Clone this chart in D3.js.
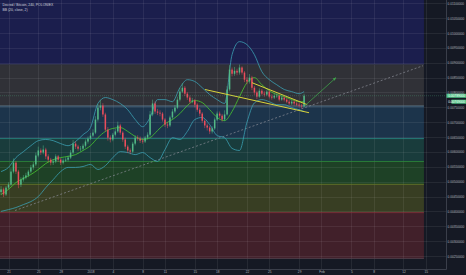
<!DOCTYPE html>
<html>
<head>
<meta charset="utf-8">
<script src="https://cdn.jsdelivr.net/npm/d3@7"></script>
<style>
body { margin: 0; background: #151924; }
svg { display: block; }
text { font-family: "Liberation Sans", Arial, sans-serif; }
</style>
</head>
<body>
<script>
// chart size
var svgWidth = 466;
var svgHeight = 275;
var plotRight = 446;
var plotBottom = 269;

// DCR/BTC candles, one every 8 hours from Dec 20 2017 (open = previous close)
var candleStart = Date.UTC(2017, 11, 20);
var candleStep = 8 * 3600 * 1000;
var firstOpen = 0.00465;
var closes = [0.00474,0.00457,0.00480,0.00490,0.00534,0.00564,0.00534,0.00490,0.00507,0.00514,
  0.00521,0.00534,0.00548,0.00558,0.00588,0.00605,0.00598,0.00608,0.00585,0.00574,
  0.00564,0.00568,0.00585,0.00574,0.00564,0.00571,0.00574,0.00581,0.00598,0.00628,
  0.00618,0.00611,0.00611,0.00621,0.00635,0.00645,0.00655,0.00665,0.00709,0.00749,
  0.00756,0.00726,0.00675,0.00648,0.00642,0.00658,0.00669,0.00689,0.00665,0.00642,
  0.00618,0.00605,0.00601,0.00628,0.00648,0.00645,0.00638,0.00635,0.00648,0.00658,
  0.00726,0.00763,0.00736,0.00732,0.00729,0.00709,0.00692,0.00689,0.00716,0.00736,
  0.00749,0.00776,0.00803,0.00816,0.00796,0.00783,0.00769,0.00773,0.00759,0.00742,
  0.00729,0.00705,0.00689,0.00682,0.00669,0.00679,0.00709,0.00729,0.00722,0.00709,
  0.00726,0.00810,0.00877,0.00863,0.00873,0.00867,0.00884,0.00867,0.00843,0.00837,
  0.00850,0.00816,0.00800,0.00786,0.00806,0.00796,0.00793,0.00803,0.00786,0.00783,
  0.00789,0.00789,0.00776,0.00783,0.00776,0.00769,0.00763,0.00769,0.00763,0.00759,
  0.00756,0.00753,0.00789];
var highs = [0.00485,0.00480,0.00486,0.00498,0.00545,0.00578,0.00570,0.00540,0.00515,0.00522,
  0.00530,0.00540,0.00556,0.00566,0.00598,0.00618,0.00612,0.00622,0.00614,0.00592,
  0.00580,0.00576,0.00592,0.00590,0.00580,0.00578,0.00582,0.00588,0.00606,0.00640,
  0.00636,0.00624,0.00620,0.00628,0.00642,0.00652,0.00664,0.00676,0.00720,0.00762,
  0.00775,0.00764,0.00732,0.00684,0.00656,0.00664,0.00678,0.00702,0.00695,0.00670,
  0.00648,0.00624,0.00612,0.00634,0.00656,0.00656,0.00652,0.00646,0.00654,0.00666,
  0.00738,0.00776,0.00770,0.00745,0.00740,0.00734,0.00714,0.00700,0.00722,0.00744,
  0.00758,0.00786,0.00815,0.00832,0.00822,0.00802,0.00790,0.00782,0.00778,0.00764,
  0.00748,0.00734,0.00710,0.00696,0.00688,0.00686,0.00716,0.00736,0.00736,0.00728,
  0.00740,0.00822,0.00892,0.00884,0.00886,0.00880,0.00894,0.00888,0.00872,0.00852,
  0.00862,0.00856,0.00822,0.00806,0.00814,0.00812,0.00804,0.00810,0.00808,0.00794,
  0.00796,0.00798,0.00794,0.00790,0.00788,0.00782,0.00776,0.00775,0.00774,0.00770,
  0.00766,0.00762,0.00796];
var lows = [0.00455,0.00448,0.00452,0.00474,0.00486,0.00528,0.00526,0.00478,0.00482,0.00500,
  0.00508,0.00515,0.00528,0.00540,0.00552,0.00582,0.00590,0.00592,0.00576,0.00565,
  0.00555,0.00556,0.00562,0.00566,0.00556,0.00558,0.00566,0.00568,0.00576,0.00592,
  0.00610,0.00604,0.00602,0.00605,0.00615,0.00628,0.00640,0.00650,0.00660,0.00702,
  0.00740,0.00718,0.00668,0.00638,0.00632,0.00636,0.00652,0.00664,0.00658,0.00634,
  0.00610,0.00596,0.00592,0.00596,0.00622,0.00638,0.00630,0.00628,0.00630,0.00642,
  0.00652,0.00720,0.00728,0.00724,0.00720,0.00702,0.00684,0.00680,0.00684,0.00710,
  0.00730,0.00744,0.00770,0.00798,0.00788,0.00775,0.00762,0.00764,0.00750,0.00735,
  0.00720,0.00698,0.00680,0.00672,0.00660,0.00662,0.00674,0.00704,0.00714,0.00702,
  0.00704,0.00722,0.00804,0.00854,0.00856,0.00858,0.00860,0.00860,0.00835,0.00828,
  0.00830,0.00808,0.00792,0.00778,0.00782,0.00790,0.00786,0.00788,0.00780,0.00776,
  0.00778,0.00782,0.00770,0.00772,0.00770,0.00764,0.00758,0.00758,0.00756,0.00754,
  0.00750,0.00746,0.00750];

// BB (20, close, 2) at every 3rd candle
var bbIndex = [0,3,6,9,12,15,18,21,24,27,30,33,36,39,42,45,48,51,54,57,60,
  63,66,69,72,75,78,81,84,87,90,93,96,99,102,105,108,111,114,117,120,122];
var bbUpper = [0.00534,0.00548,0.00581,0.00601,0.00621,0.00638,0.00642,0.00638,0.00628,0.00621,0.00635,
  0.00658,0.00682,0.00763,0.00783,0.00776,0.00763,0.00742,0.00709,0.00685,0.00716,
  0.00776,0.00776,0.00769,0.00816,0.00843,0.00837,0.00816,0.00793,0.00776,0.00763,
  0.00927,0.00971,0.00961,0.00927,0.00870,0.00843,0.00826,0.00810,0.00803,0.00796,0.00803];
var bbBasis = [0.00457,0.00474,0.00497,0.00511,0.00524,0.00541,0.00561,0.00574,0.00581,0.00585,0.00591,
  0.00605,0.00621,0.00648,0.00669,0.00679,0.00682,0.00669,0.00652,0.00642,0.00648,
  0.00672,0.00695,0.00709,0.00729,0.00756,0.00773,0.00766,0.00742,0.00716,0.00705,
  0.00736,0.00786,0.00833,0.00850,0.00826,0.00806,0.00793,0.00786,0.00776,0.00769,0.00769];
var bbLower = [0.00400,0.00406,0.00413,0.00423,0.00433,0.00450,0.00480,0.00507,0.00534,0.00548,0.00548,
  0.00551,0.00558,0.00541,0.00554,0.00581,0.00601,0.00598,0.00591,0.00598,0.00581,
  0.00568,0.00608,0.00648,0.00642,0.00669,0.00709,0.00716,0.00692,0.00655,0.00648,
  0.00612,0.00605,0.00700,0.00765,0.00776,0.00769,0.00759,0.00759,0.00749,0.00742,0.00736];

// fib retracement drawing
var fibLevels = [0, 0.236, 0.382, 0.5, 0.618, 0.786, 1, 1.618];
var fibLow = 0.00242;
var fibHigh = 0.00894;
var fibEnd = Date.UTC(2018, 1, 14, 18);

// trend lines [time, price]
var dashedLine = [[Date.UTC(2017, 11, 21, 21), 0.00403], [Date.UTC(2018, 1, 14, 15), 0.00890]];
var wedgeLower = [[Date.UTC(2018, 0, 16, 9), 0.00810], [Date.UTC(2018, 0, 30, 8), 0.00732]];
var wedgeUpper = [[Date.UTC(2018, 0, 22, 16), 0.00833], [Date.UTC(2018, 0, 30, 2), 0.00759]];
var arrowLine = [[Date.UTC(2018, 0, 29, 19), 0.00756], [Date.UTC(2018, 1, 2, 23), 0.00850]];

// axes
var priceTicks = [0.0025,0.003,0.0035,0.004,0.0045,0.005,0.0055,0.006,0.0065,
  0.007,0.0075,0.008,0.0085,0.009,0.0095,0.01,0.0105,0.011];
var timeTicks = [Date.UTC(2017,11,21), Date.UTC(2017,11,25), Date.UTC(2017,11,28), Date.UTC(2018,0,1),
  Date.UTC(2018,0,4), Date.UTC(2018,0,8), Date.UTC(2018,0,11), Date.UTC(2018,0,15), Date.UTC(2018,0,18),
  Date.UTC(2018,0,22), Date.UTC(2018,0,25), Date.UTC(2018,0,29), Date.UTC(2018,1,1), Date.UTC(2018,1,5),
  Date.UTC(2018,1,8), Date.UTC(2018,1,12), Date.UTC(2018,1,15)];
var timeLabels = ["21","25","28","2018","4","8","11","15","18","22","25","29","Feb","5","8","12","15"];

// colours
var fibFills = ["#41202a", "#383e23", "#1e4126", "#193c3c", "#1c344b", "#303137", "#1b1e4d"];
var fibLines = ["#5a4550", "#8c2f3c", "#6f7d2a", "#2f8f3a", "#2a8d86", "#6b8aa0", "#3a3c4a", "#3a3c6a"];
var upColor = "#53b987", downColor = "#eb4d5c";

var svg = d3.select("body").append("svg")
  .attr("width", svgWidth)
  .attr("height", svgHeight);

var xScale = d3.scaleUtc()
  .domain([new Date(Date.UTC(2017, 11, 21)), new Date(Date.UTC(2018, 1, 15))])
  .range([8.5, 425.8]);
var yScale = d3.scaleLinear()
  .domain([0.0025, 0.011])
  .range([256, 3.3]);

svg.append("rect").attr("width", svgWidth).attr("height", svgHeight).attr("fill", "#151924");

var plot = svg.append("g");
plot.append("clipPath").attr("id", "clip")
  .append("rect").attr("width", plotRight).attr("height", plotBottom);
var chart = plot.append("g").attr("clip-path", "url(#clip)");

// fib bands
var fibX = xScale(new Date(fibEnd));
function fibPrice(r) { return fibLow + r * (fibHigh - fibLow); }
for (var k = 1; k < fibLevels.length; k++) {
  var yTop = yScale(fibPrice(fibLevels[k]));
  var yBot = yScale(fibPrice(fibLevels[k - 1]));
  chart.append("rect")
    .attr("x", 0).attr("y", yTop)
    .attr("width", fibX).attr("height", yBot - yTop)
    .attr("fill", fibFills[k - 1]);
}

// grid
chart.selectAll(".hgrid").data(priceTicks).enter().append("line")
  .attr("x1", 0).attr("x2", plotRight)
  .attr("y1", function(d) { return Math.round(yScale(d)) + 0.5; })
  .attr("y2", function(d) { return Math.round(yScale(d)) + 0.5; })
  .attr("stroke", "rgba(255,255,255,0.07)");
chart.selectAll(".vgrid").data(timeTicks).enter().append("line")
  .attr("y1", 0).attr("y2", plotBottom)
  .attr("x1", function(d) { return Math.round(xScale(new Date(d))) + 0.5; })
  .attr("x2", function(d) { return Math.round(xScale(new Date(d))) + 0.5; })
  .attr("stroke", "rgba(255,255,255,0.07)");

// fib level lines
fibLevels.forEach(function(r, k) {
  chart.append("line")
    .attr("x1", 0).attr("x2", fibX)
    .attr("y1", yScale(fibPrice(r))).attr("y2", yScale(fibPrice(r)))
    .attr("stroke", fibLines[k]).attr("stroke-width", 0.8);
});

function pt(p) { return [xScale(new Date(p[0])), yScale(p[1])]; }
var seg = d3.line();

// dashed trend line
chart.append("path")
  .attr("d", seg(dashedLine.map(pt)))
  .attr("stroke", "#8a8d96").attr("stroke-width", 0.7)
  .attr("stroke-dasharray", "2,2").attr("fill", "none");

// candles
var candles = closes.map(function(c, i) {
  return {
    t: new Date(candleStart + i * candleStep),
    o: i ? closes[i - 1] : firstOpen,
    c: c, h: highs[i], l: lows[i]
  };
});

// bollinger bands
var bbLine = d3.line()
  .x(function(d) { return xScale(candles[d[0]].t); })
  .y(function(d) { return yScale(d[1]); })
  .curve(d3.curveMonotoneX);
[[bbUpper, "#3b9fb3"], [bbLower, "#3b9fb3"], [bbBasis, "#47c82f"]].forEach(function(s) {
  chart.append("path")
    .attr("d", bbLine(bbIndex.map(function(idx, j) { return [idx, s[0][j]]; })))
    .attr("stroke", s[1]).attr("stroke-width", 0.8).attr("fill", "none");
});

var cw = 1.5;
var cg = chart.selectAll(".candle").data(candles).enter().append("g");
cg.append("line")
  .attr("x1", function(d) { return xScale(d.t); })
  .attr("x2", function(d) { return xScale(d.t); })
  .attr("y1", function(d) { return yScale(d.h); })
  .attr("y2", function(d) { return yScale(d.l); })
  .attr("stroke", function(d) { return d.c >= d.o ? upColor : downColor; })
  .attr("stroke-width", 0.5);
cg.append("rect")
  .attr("x", function(d) { return xScale(d.t) - cw / 2; })
  .attr("width", cw)
  .attr("y", function(d) { return yScale(Math.max(d.o, d.c)); })
  .attr("height", function(d) { return Math.max(0.6, Math.abs(yScale(d.o) - yScale(d.c))); })
  .attr("fill", function(d) { return d.c >= d.o ? upColor : downColor; });

// wedge lines
[wedgeLower, wedgeUpper].forEach(function(l) {
  chart.append("path")
    .attr("d", seg(l.map(pt)))
    .attr("stroke", "#d9d43a").attr("stroke-width", 1).attr("fill", "none");
});

// arrow
var a0 = pt(arrowLine[0]), a1 = pt(arrowLine[1]);
chart.append("path").attr("d", seg([a0, a1]))
  .attr("stroke", "#3f9f4a").attr("stroke-width", 0.8).attr("fill", "none");
var ang = Math.atan2(a1[1] - a0[1], a1[0] - a0[0]);
var head = [
  [a1[0], a1[1]],
  [a1[0] - 3.5 * Math.cos(ang - 0.45), a1[1] - 3.5 * Math.sin(ang - 0.45)],
  [a1[0] - 3.5 * Math.cos(ang + 0.45), a1[1] - 3.5 * Math.sin(ang + 0.45)]
];
chart.append("path").attr("d", seg(head) + "Z").attr("fill", "#3f9f4a");

// last price line
var lastClose = closes[closes.length - 1];
chart.append("line")
  .attr("x1", 0).attr("x2", plotRight)
  .attr("y1", yScale(lastClose)).attr("y2", yScale(lastClose))
  .attr("stroke", upColor).attr("stroke-opacity", 0.5)
  .attr("stroke-width", 0.6).attr("stroke-dasharray", "1,1");

// price axis
var rightAxis = d3.axisRight(yScale)
  .tickValues(priceTicks)
  .tickSize(0)
  .tickPadding(1.5)
  .tickFormat(d3.format(".8f"));
var ya = svg.append("g").attr("transform", "translate(" + plotRight + ",0)").call(rightAxis);
ya.select(".domain").remove();
ya.selectAll("text").attr("font-size", 3.2).attr("fill", "#b2b5be");

// time axis
var bottomAxis = d3.axisBottom(xScale)
  .tickValues(timeTicks.map(function(d) { return new Date(d); }))
  .tickSize(0)
  .tickPadding(1.8)
  .tickFormat(function(d, i) { return timeLabels[i]; });
var xa = svg.append("g").attr("transform", "translate(0," + plotBottom + ")").call(bottomAxis);
xa.select(".domain").remove();
xa.selectAll("text").attr("font-size", 3.2).attr("fill", "#b2b5be");

// borders
svg.append("line").attr("x1", plotRight + 0.5).attr("x2", plotRight + 0.5)
  .attr("y1", 0).attr("y2", plotBottom + 0.5).attr("stroke", "#3a3e4a");
svg.append("line").attr("x1", 0).attr("x2", plotRight + 0.5)
  .attr("y1", plotBottom + 0.5).attr("y2", plotBottom + 0.5).attr("stroke", "#3a3e4a");

// value labels on the price axis
var lastBasis = bbBasis[bbBasis.length - 1];
var lbl1 = yScale(lastClose);
var lbl2 = Math.max(yScale(lastBasis), lbl1 + 4.2);
[[lbl1, lastClose, plotRight + 0.5], [lbl2, lastBasis, plotRight + 5.5]].forEach(function(l) {
  svg.append("rect")
    .attr("x", l[2]).attr("y", l[0] - 2)
    .attr("width", svgWidth - l[2]).attr("height", 4)
    .attr("fill", "#4fc386");
  svg.append("text")
    .attr("x", svgWidth - 1).attr("y", l[0])
    .attr("dy", "0.35em").attr("text-anchor", "end")
    .attr("font-size", 3.2).attr("fill", "#ffffff")
    .text(d3.format(".8f")(l[1]));
});

// legend
svg.append("text").attr("x", 2.5).attr("y", 6.2)
  .attr("font-size", 3.4).attr("fill", "#d1d4dc")
  .text("Decred / Bitcoin, 240, POLONIEX");
svg.append("text").attr("x", 2.5).attr("y", 11.2)
  .attr("font-size", 3.4).attr("fill", "#d1d4dc")
  .text("BB (20, close, 2)");
</script>
</body>
</html>
